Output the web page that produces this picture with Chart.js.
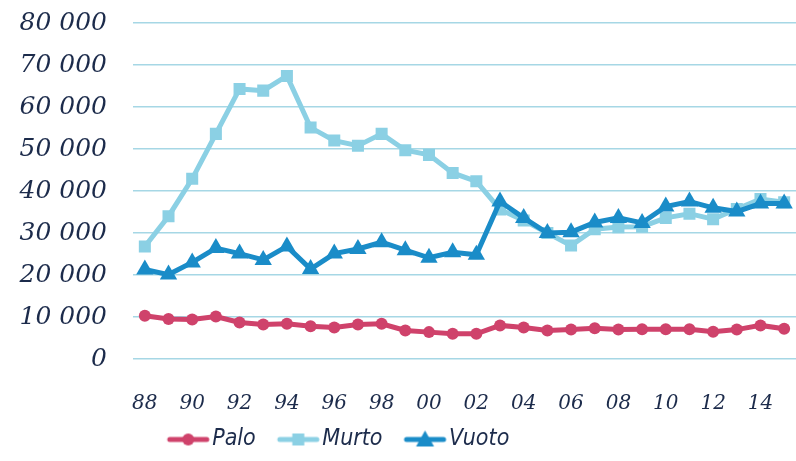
<!DOCTYPE html>
<html>
<head>
<meta charset="utf-8">
<script src="https://cdn.jsdelivr.net/npm/chart.js@4.4.1/dist/chart.umd.min.js"></script>
<style>
  html, body { margin: 0; padding: 0; background: #fff; overflow: hidden; }
  #wrap { width: 796px; height: 461px; position: relative; }
</style>
</head>
<body>
<div id="wrap"><canvas id="chart"></canvas></div>
<script>
// vuodet 1988-2015
const years = ['88','89','90','91','92','93','94','95','96','97','98','99','00','01',
               '02','03','04','05','06','07','08','09','10','11','12','13','14','15'];

const palo = [10300, 9500, 9400, 10100, 8700, 8200, 8400, 7800, 7500, 8200, 8400, 6800, 6400, 6000,
              6000, 8000, 7500, 6800, 7000, 7300, 7000, 7100, 7100, 7100, 6500, 7000, 8000, 7200];
const murto = [26800, 34000, 42900, 53600, 64300, 63900, 67400, 55100, 52000, 50800, 53600, 49700, 48600, 44300,
               42300, 35600, 33000, 30000, 27000, 30900, 31400, 31500, 33600, 34600, 33300, 35700, 38100, 37300];
const vuoto = [21300, 20100, 23000, 26400, 25100, 23600, 26800, 21400, 25100, 26200, 27800, 25900, 24100, 25400,
               24800, 37500, 33600, 30000, 30200, 32500, 33600, 32400, 36300, 37500, 36000, 35100, 37000, 37000];

const textColor = '#1c2b4b';
const colPalo = '#cf426b';
const colMurto = '#8bd0e4';
const colVuoto = '#1a8cc8';

// legendan merkki: viiva + piste (piirretään vähän oikealle, lähelle tekstiä)
function legendMark(color, style) {
    const c = document.createElement('canvas');
    c.width = 64; c.height = 22;
    const g = c.getContext('2d');
    const cx = 41.5, cy = 11;
    g.strokeStyle = color;
    g.fillStyle = color;
    g.lineWidth = 5;
    g.lineCap = 'round';
    g.beginPath(); g.moveTo(23, cy); g.lineTo(60, cy); g.stroke();
    g.beginPath();
    if (style === 'circle') {
        g.arc(cx, cy, 6, 0, Math.PI * 2);
    } else if (style === 'rect') {
        g.rect(cx - 6, cy - 6, 12, 12);
    } else {
        g.moveTo(cx, cy - 9); g.lineTo(cx + 9, cy + 7); g.lineTo(cx - 9, cy + 7); g.closePath();
    }
    g.fill();
    return c;
}
const marks = [legendMark(colPalo, 'circle'), legendMark(colMurto, 'rect'), legendMark(colVuoto, 'triangle')];

function fmt(v) {
    return String(v).replace(/\B(?=(\d{3})+(?!\d))/g, ' ');
}

// selite hieman vasemmalle kuten alkuperäisessä
const moveLegend = {
    id: 'moveLegend',
    afterLayout(chart) {
        chart.legend.left = 0;
        chart.legend.right = 666;
    }
};

new Chart(document.getElementById('chart'), {
    type: 'line',
    data: {
        labels: years,
        datasets: [
            {
                label: 'Palo', data: palo, order: 2,
                borderColor: colPalo, backgroundColor: colPalo, borderWidth: 5,
                pointStyle: 'circle', pointRadius: 6, pointBorderWidth: 0, tension: 0
            },
            {
                label: 'Murto', data: murto, order: 1,
                borderColor: colMurto, backgroundColor: colMurto, borderWidth: 5,
                pointStyle: 'rect', pointRadius: 8.5, pointBorderWidth: 0, tension: 0
            },
            {
                label: 'Vuoto', data: vuoto, order: 0,
                borderColor: colVuoto, backgroundColor: colVuoto, borderWidth: 5,
                pointStyle: 'triangle', pointRadius: 10, pointBorderWidth: 0, tension: 0
            }
        ]
    },
    options: {
        responsive: true,
        maintainAspectRatio: false,
        animation: false,
        layout: { autoPadding: false, padding: { top: 23, right: 0, left: 0, bottom: 0 } },
        plugins: {
            tooltip: { enabled: false },
            legend: {
                position: 'bottom',
                labels: {
                    usePointStyle: true,
                    pointStyleWidth: 44,
                    padding: 11,
                    color: textColor,
                    font: { family: 'DejaVu Sans Condensed', style: 'italic', size: 23 },
                    sort: (a, b) => a.datasetIndex - b.datasetIndex,
                    generateLabels(chart) {
                        const items = Chart.defaults.plugins.legend.labels.generateLabels(chart);
                        items.forEach(it => { it.pointStyle = marks[it.datasetIndex]; });
                        return items;
                    }
                }
            }
        },
        scales: {
            x: {
                offset: true,
                afterFit(scale) {
                    scale.height = 58;
                    scale.paddingLeft = 0;
                    scale.paddingRight = 0;
                },
                grid: { display: false },
                border: { display: false },
                ticks: {
                    autoSkip: false,
                    maxRotation: 0,
                    padding: 25,
                    color: textColor,
                    font: { family: 'DejaVu Serif', style: 'italic', size: 20 },
                    callback: function (val, i) { return i % 2 === 0 ? this.getLabelForValue(val) : ''; }
                }
            },
            y: {
                min: 0,
                max: 80000,
                afterFit(scale) {
                    scale.width = 133;
                    scale.paddingTop = 0;
                    scale.paddingBottom = 0;
                },
                grid: { color: '#a6d7e5', lineWidth: 1.5, drawTicks: false },
                border: { display: false },
                ticks: {
                    stepSize: 10000,
                    padding: 26,
                    color: textColor,
                    font: { family: 'DejaVu Serif', style: 'italic', size: 25 },
                    callback: v => fmt(v)
                }
            }
        }
    },
    plugins: [moveLegend]
});
</script>
</body>
</html>
